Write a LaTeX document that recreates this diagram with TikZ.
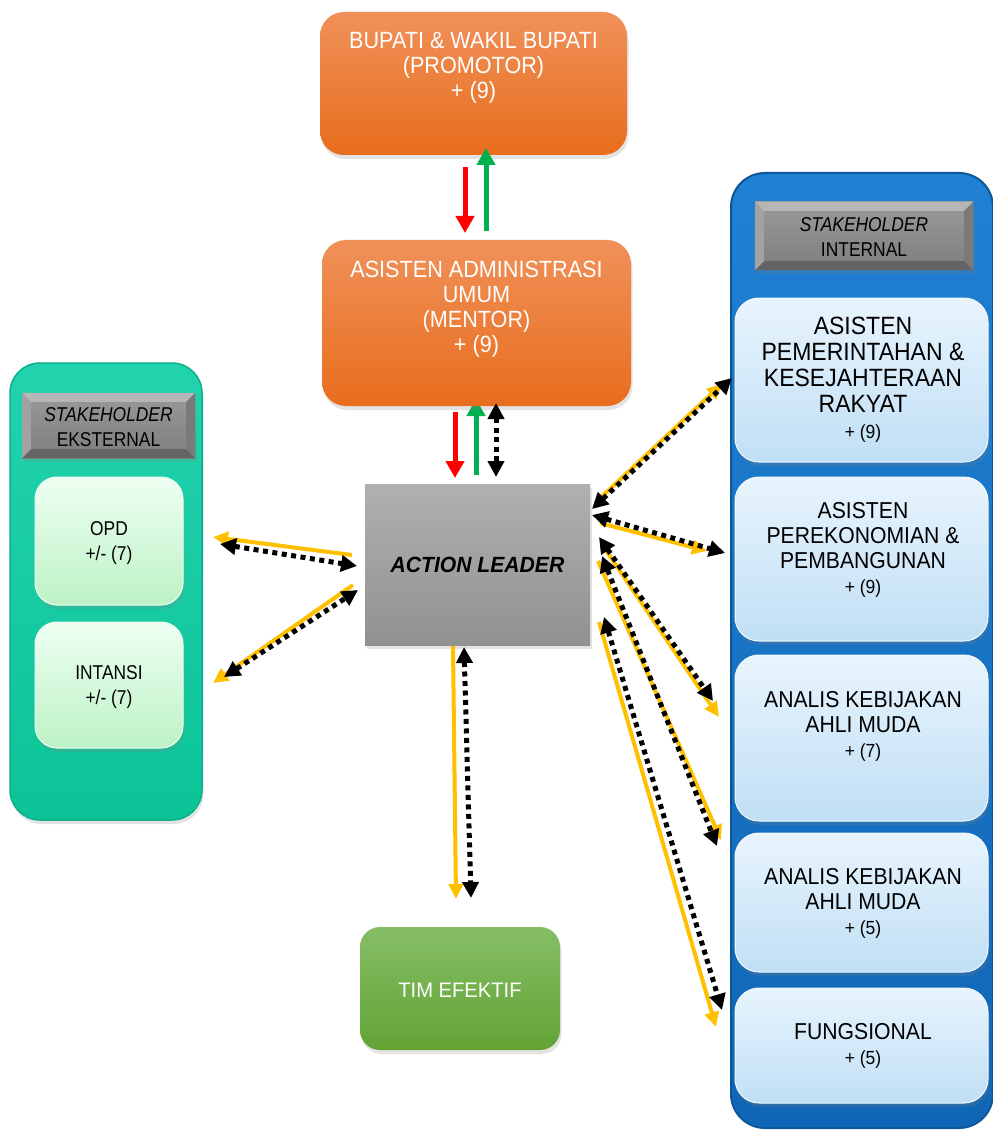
\documentclass[tikz,border=0pt]{standalone}
\usepackage{fontspec}
\setmainfont{Liberation Sans}
\newfontfamily\nfa[FakeStretch=0.92]{Liberation Sans}
\newfontfamily\nfb[FakeStretch=0.87]{Liberation Sans}
\newfontfamily\nfc[FakeStretch=0.96]{Liberation Sans}
\usetikzlibrary{arrows.meta,shadows,calc}
\definecolor{orTop}{HTML}{F0915A}
\definecolor{orBot}{HTML}{E86D1C}
\definecolor{alTop}{HTML}{B0B0B0}
\definecolor{alBot}{HTML}{919191}
\definecolor{tmTop}{HTML}{86BE66}
\definecolor{tmBot}{HTML}{62A334}
\definecolor{tlTop}{HTML}{22D3AE}
\definecolor{tlBot}{HTML}{0CC397}
\definecolor{tlEdge}{HTML}{0BB08A}
\definecolor{grTop}{HTML}{EEFFF2}
\definecolor{grBot}{HTML}{BDF2C5}
\definecolor{blTop}{HTML}{2080D2}
\definecolor{blBot}{HTML}{1066B6}
\definecolor{blEdge}{HTML}{0B579A}
\definecolor{lbTop}{HTML}{E8F4FD}
\definecolor{lbBot}{HTML}{C0DFF5}
\definecolor{hdTopC}{HTML}{999999}
\definecolor{hdBotC}{HTML}{7E7E7E}
\definecolor{hdTop}{HTML}{B6B6B6}
\definecolor{hdBot}{HTML}{646464}
\definecolor{hdSideL}{HTML}{A2A2A2}
\definecolor{hdSideR}{HTML}{7A7A7A}
\definecolor{arYel}{HTML}{FFC000}
\definecolor{arRed}{HTML}{FF0000}
\definecolor{arGrn}{HTML}{00B050}
\tikzset{
  shad/.style={drop shadow={opacity=0.22,shadow xshift=1.5pt,shadow yshift=-4pt}},
  orangebox/.style={rectangle,rounded corners=24pt,top color=orTop,bottom color=orBot,shad},
  greybox/.style={rectangle,top color=alTop,bottom color=alBot,shad},
  timbox/.style={rectangle,rounded corners=20pt,top color=tmTop,bottom color=tmBot,shad},
  tealpanel/.style={rectangle,rounded corners=30pt,top color=tlTop,bottom color=tlBot,draw=tlEdge,line width=1.5pt,shad},
  bluepanel/.style={rectangle,rounded corners=34pt,top color=blTop,bottom color=blBot,draw=blEdge,line width=2pt},
  greenbox/.style={rectangle,rounded corners=22pt,top color=grTop,bottom color=grBot,draw=white!80!grBot,line width=1pt,shad},
  lbluebox/.style={rectangle,rounded corners=24pt,top color=lbTop,bottom color=lbBot,draw=white!80!lbBot,line width=1pt,shad},
  hdrbox/.style={rectangle,top color=hdTopC,bottom color=hdBotC,shad},
  txt/.style={align=center,inner sep=0pt},
  redar/.style={draw=arRed,line width=5pt,-{Triangle[length=17pt,width=18pt]}},
  grnar/.style={draw=arGrn,line width=5pt,-{Triangle[length=17pt,width=18pt]}},
  yelar/.style={draw=arYel,line width=4pt,-{Triangle[length=15pt,width=14pt]}},
  dotar/.style={draw=black,line width=5pt,dash pattern=on 5pt off 4.5pt,{Triangle[length=16pt,width=16pt]}-{Triangle[length=16pt,width=16pt]}}
}
\newcommand\hdrbevel[1]{%
  \fill[hdTop] (#1.north west) -- (#1.north east) -- ($(#1.north east)+(-9,9)$) -- ($(#1.north west)+(9,9)$) -- cycle;
  \fill[hdBot] (#1.south west) -- (#1.south east) -- ($(#1.south east)+(-9,-9)$) -- ($(#1.south west)+(9,-9)$) -- cycle;
  \fill[hdSideL] (#1.north west) -- ($(#1.north west)+(9,9)$) -- ($(#1.south west)+(9,-9)$) -- (#1.south west) -- cycle;
  \fill[hdSideR] (#1.north east) -- ($(#1.north east)+(-9,9)$) -- ($(#1.south east)+(-9,-9)$) -- (#1.south east) -- cycle;
}
\begin{document}
\begin{tikzpicture}[x=1pt,y=-1pt]
\useasboundingbox[fill=white] (0,0) rectangle (992,1131);

% ---------- panels ----------
\node[tealpanel,minimum width=192pt,minimum height=457pt] (extpanel) at (106,591.5) {};
\node[bluepanel,minimum width=262pt,minimum height=955pt] (intpanel) at (862,650.5) {};

% external header
\node[hdrbox,minimum width=173pt,minimum height=65pt] (exthdr) at (108.5,425.5) {};
\hdrbevel{exthdr}
\node[txt,font=\nfb\fontsize{20}{25}\selectfont] (exthdrT) at (108.5,427) {\itshape STAKEHOLDER\\EKSTERNAL};

% internal header
\node[hdrbox,minimum width=218pt,minimum height=68pt] (inthdr) at (864,236) {};
\hdrbevel{inthdr}
\node[txt,font=\nfb\fontsize{20}{25}\selectfont] (inthdrT) at (864,237) {\itshape STAKEHOLDER\\INTERNAL};

% external boxes
\node[greenbox,minimum width=148pt,minimum height=128pt] (opd) at (109,541) {};
\node[txt,font=\nfb\fontsize{20}{25}\selectfont] (opdT) at (109,543) {OPD\\+/- (7)};
\node[greenbox,minimum width=148pt,minimum height=126pt] (intansi) at (109,685) {};
\node[txt,font=\nfb\fontsize{20}{25}\selectfont] (intansiT) at (109,687) {INTANSI\\+/- (7)};

% internal boxes
\node[lbluebox,minimum width=253pt,minimum height=164pt] (ib1) at (861.5,380) {};
\node[txt,font=\nfa\fontsize{25}{26}\selectfont] (ib1T) at (863,380) {ASISTEN\\PEMERINTAHAN \&\\KESEJAHTERAAN\\RAKYAT\\{\fontsize{19}{22}\selectfont + (9)}};
\node[lbluebox,minimum width=253pt,minimum height=164pt] (ib2) at (861.5,559) {};
\node[txt,font=\nfa\fontsize{23}{25}\selectfont] (ib2T) at (863,550) {ASISTEN\\PEREKONOMIAN \&\\PEMBANGUNAN\\{\fontsize{19}{22}\selectfont + (9)}};
\node[lbluebox,minimum width=253pt,minimum height=166pt] (ib3) at (861.5,738) {};
\node[txt,font=\nfa\fontsize{23}{25}\selectfont] (ib3T) at (863,726) {ANALIS KEBIJAKAN\\AHLI MUDA\\{\fontsize{19}{22}\selectfont + (7)}};
\node[lbluebox,minimum width=253pt,minimum height=139pt] (ib4) at (861.5,902.5) {};
\node[txt,font=\nfa\fontsize{23}{25}\selectfont] (ib4T) at (863,903) {ANALIS KEBIJAKAN\\AHLI MUDA\\{\fontsize{19}{22}\selectfont + (5)}};
\node[lbluebox,minimum width=253pt,minimum height=115pt] (ib5) at (861.5,1045.5) {};
\node[txt,font=\nfa\fontsize{23}{25}\selectfont] (ib5T) at (863,1046) {FUNGSIONAL\\{\fontsize{19}{22}\selectfont + (5)}};

% ---------- central column ----------
\coordinate (g2s) at (476,475); \coordinate (g2e) at (476,399);
\draw[grnar] (g2s) -- (g2e);

\node[orangebox,minimum width=307pt,minimum height=143pt] (bupati) at (473.5,83.5) {};
\node[txt,text=white,font=\nfa\fontsize{23.5}{25}\selectfont] (bupatiT) at (473.5,68) {BUPATI \& WAKIL BUPATI\\(PROMOTOR)\\+ (9)};

\node[orangebox,minimum width=309pt,minimum height=166pt] (mentor) at (476.5,323) {};
\node[txt,text=white,font=\nfa\fontsize{23.5}{25}\selectfont] (mentorT) at (476.5,309) {ASISTEN ADMINISTRASI\\UMUM\\(MENTOR)\\+ (9)};

\node[greybox,minimum width=225pt,minimum height=161pt] (al) at (477.5,564.5) {};
\node[txt,font=\nfc\bfseries\itshape\fontsize{22}{26}\selectfont] (alT) at (477.5,565) {ACTION LEADER};

\node[timbox,minimum width=200pt,minimum height=123pt] (tim) at (460,988.5) {};
\node[txt,text=white,font=\nfc\fontsize{21}{25}\selectfont] (timT) at (460,990) {TIM EFEKTIF};

% ---------- connectors ----------
\coordinate (r1s) at (465,167); \coordinate (r1e) at (465,233);
\coordinate (g1s) at (486,231); \coordinate (g1e) at (486,148);
\draw[redar] (r1s) -- (r1e);
\draw[grnar] (g1s) -- (g1e);

\coordinate (r2s) at (455,412); \coordinate (r2e) at (455,478);
\draw[redar] (r2s) -- (r2e);
\coordinate (d0s) at (496,403); \coordinate (d0e) at (496,477);
\draw[dotar] (d0s) -- (d0e);

% left
\coordinate (yl1s) at (352,555); \coordinate (yl1e) at (213,537);
\coordinate (dl1s) at (220,544); \coordinate (dl1e) at (357,566);
\draw[yelar] (yl1s) -- (yl1e);
\draw[dotar] (dl1s) -- (dl1e);
\coordinate (yl2s) at (353,585); \coordinate (yl2e) at (213,683);
\coordinate (dl2s) at (224,677); \coordinate (dl2e) at (358,590);
\draw[yelar] (yl2s) -- (yl2e);
\draw[dotar] (dl2s) -- (dl2e);

% bottom
\coordinate (ybs) at (453,646); \coordinate (ybe) at (456,899);
\coordinate (dbs) at (464,647); \coordinate (dbe) at (471,898);
\draw[yelar] (ybs) -- (ybe);
\draw[dotar] (dbs) -- (dbe);

% right
\coordinate (yr1s) at (595,503); \coordinate (yr1e) at (722,384);
\coordinate (dr1s) at (592,509); \coordinate (dr1e) at (732,378);
\draw[yelar] (yr1s) -- (yr1e);
\draw[dotar] (dr1s) -- (dr1e);

\coordinate (yr2s) at (600,523); \coordinate (yr2e) at (707,551);
\coordinate (dr2s) at (592,515); \coordinate (dr2e) at (725,553);
\draw[yelar] (yr2s) -- (yr2e);
\draw[dotar] (dr2s) -- (dr2e);

\coordinate (yr3s) at (605,549); \coordinate (yr3e) at (719,717);
\coordinate (dr3s) at (599,537); \coordinate (dr3e) at (713,701);
\draw[yelar] (yr3s) -- (yr3e);
\draw[dotar] (dr3s) -- (dr3e);

\coordinate (yr4s) at (598,561); \coordinate (yr4e) at (721,840);
\coordinate (dr4s) at (602,556); \coordinate (dr4e) at (717,846);
\draw[yelar] (yr4s) -- (yr4e);
\draw[dotar] (dr4s) -- (dr4e);

\coordinate (yr5s) at (599,622); \coordinate (yr5e) at (716,1027);
\coordinate (dr5s) at (604,617); \coordinate (dr5e) at (722,1010);
\draw[yelar] (yr5s) -- (yr5e);
\draw[dotar] (dr5s) -- (dr5e);
\end{tikzpicture}
\end{document}
